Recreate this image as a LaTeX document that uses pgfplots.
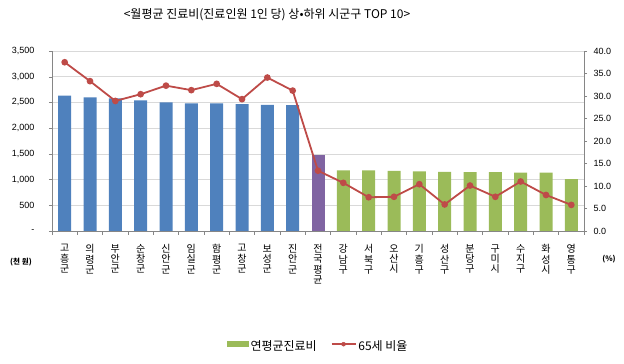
\documentclass[border=0pt]{standalone}
\usepackage{fontspec}
\setmainfont{Liberation Sans}
\newfontfamily\kr{Noto Sans CJK KR}
\usepackage{pgfplots}
\pgfplotsset{compat=1.18}
\definecolor{cblue}{HTML}{4F81BD}
\definecolor{cpurple}{HTML}{8064A2}
\definecolor{cgreen}{HTML}{9BBB59}
\definecolor{cred}{HTML}{BE4B48}
\definecolor{cgrid}{HTML}{D9D9D9}
\definecolor{caxis}{HTML}{868686}
\begin{document}
\begin{tikzpicture}[x=1pt,y=1pt]
\useasboundingbox (0,0) rectangle (624,364);
\node[font=\kr\fontsize{12}{14}\selectfont] at (267,349) {<월평균 진료비(진료인원 1인 당) 상•하위 시군구 TOP 10>};
\node[font=\kr\bfseries\fontsize{7.5}{9}\selectfont] at (21,102) {(천 원)};
\node[font=\kr\bfseries\fontsize{7.5}{9}\selectfont] at (609,105) {(\%)};
\begin{axis}[
  at={(52pt,133pt)}, anchor=south west, scale only axis,
  width=532pt, height=180pt,
  xmin=-0.5, xmax=20.5, ymin=0, ymax=3500,
  axis x line*=bottom, axis y line*=left,
  axis line style={caxis, line width=0.6pt},
  ytick={0,500,...,3500},
  yticklabels={-,500,{1,000},{1,500},{2,000},{2,500},{3,000},{3,500}},
  yticklabel style={font=\fontsize{9}{10}\selectfont, xshift=-11pt},
  ytick style={caxis},
  major tick length=3pt, tick align=outside,
  ymajorgrids, major grid style={cgrid, line width=0.6pt},
  xtick={0,...,20},
  major x tick style={draw=none},
  minor xtick={-0.5,0.5,...,20.5},
  minor x tick style={caxis, line width=0.6pt},
  minor tick length=4pt,
  xticklabels={{고\\흥\\군},{의\\령\\군},{부\\안\\군},{순\\창\\군},{신\\안\\군},{임\\실\\군},{함\\평\\군},{고\\창\\군},{보\\성\\군},{진\\안\\군},{전\\국\\평\\균},{강\\남\\구},{서\\북\\구},{오\\산\\시},{기\\흥\\구},{성\\산\\구},{분\\당\\구},{구\\미\\시},{수\\지\\구},{화\\성\\시},{영\\통\\구}},
  xticklabel style={font=\kr\fontsize{10}{10.2}\selectfont, align=center, anchor=north, yshift=-7pt},
  legend style={at={(0.5,-0.64)}, anchor=center, draw=none, font=\kr\fontsize{12}{13}\selectfont, legend columns=2, /tikz/every even column/.style={column sep=12pt}, inner sep=1pt},
]
\addplot[ybar, bar width=13pt, bar shift=0pt, fill=cblue, draw=none, forget plot] coordinates {
(0,2630) (1,2600) (2,2580) (3,2541) (4,2502) (5,2483) (6,2481) (7,2469) (8,2450) (9,2447)};
\addplot[ybar, bar width=13pt, bar shift=0pt, fill=cpurple, draw=none, forget plot] coordinates {(10,1478)};
\addplot[ybar, bar width=13pt, bar shift=0pt, fill=cgreen, draw=none,
  legend image code/.code={\fill[cgreen] (0pt,-1pt) rectangle (22pt,5pt);}] coordinates {
(11,1180) (12,1179) (13,1167) (14,1160) (15,1148) (16,1147) (17,1146) (18,1134) (19,1133) (20,1011)};
\addlegendentry{연평균진료비}
\addlegendimage{legend image code/.code={\draw[cred, line width=1.6pt] (0pt,2pt) -- (24pt,2pt); \fill[cred] (12pt,2pt) circle (2pt);}}
\addlegendentry{65세 비율}
\end{axis}
\begin{axis}[
  at={(52pt,133pt)}, anchor=south west, scale only axis,
  width=532pt, height=180pt,
  xmin=-0.5, xmax=20.5, ymin=0, ymax=40,
  axis x line=none, axis y line*=right,
  axis line style={caxis, line width=0.6pt},
  ytick={0,5,...,40},
  yticklabel style={xshift=3pt, font=\fontsize{9}{10}\selectfont, /pgf/number format/.cd, fixed, fixed zerofill, precision=1, assume math mode=true},
  ytick style={caxis},
  major tick length=3pt, tick align=outside,
]
\addplot[cred, line width=1.8pt, mark=*, mark size=2.4pt, mark options={fill=cred, draw=cred}] coordinates {
(0,37.5) (1,33.3) (2,28.9) (3,30.4) (4,32.3) (5,31.3) (6,32.7) (7,29.3) (8,34.1) (9,31.2)
(10,13.4) (11,10.7) (12,7.5) (13,7.6) (14,10.4) (15,5.9) (16,10.1) (17,7.6) (18,11.0) (19,8.0) (20,5.8)};
\end{axis}
\end{tikzpicture}
\end{document}
